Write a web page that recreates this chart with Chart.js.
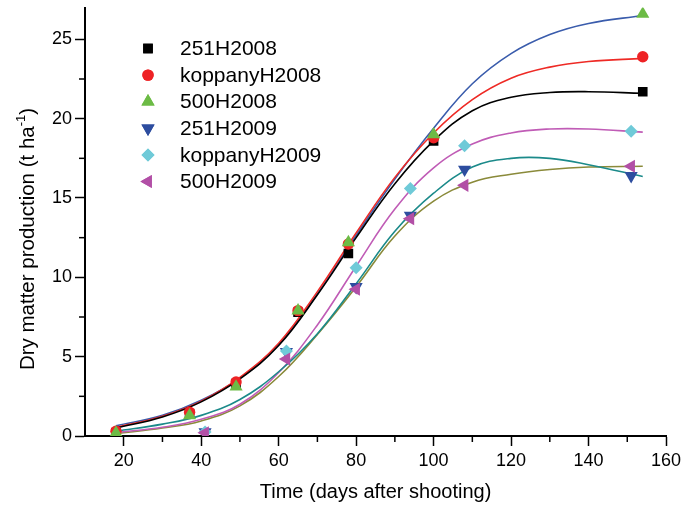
<!DOCTYPE html>
<html>
<head>
<meta charset="utf-8">
<script src="https://cdn.jsdelivr.net/npm/chart.js@4/dist/chart.umd.min.js"></script>
<style>
  html, body { margin: 0; padding: 0; background: #fff; }
  #wrap { width: 681px; height: 510px; }
</style>
</head>
<body>
<div id="wrap"><canvas id="grafico" width="681" height="510"></canvas></div>
<script>
// dias de amostragem
const days2008 = [18, 37, 49, 65, 78, 100, 154];
const days2009 = [41, 62, 80, 94, 108, 151];

// produção medida (t/ha)
const v251H2008 = [0.2, 1.4, 3.3, 7.8, 11.5, 18.6, 21.7];
const vKoppanyH2008 = [0.3, 1.5, 3.4, 7.9, 12.1, 18.8, 23.9];
const v500H2008 = [0.2, 1.3, 3.1, 7.9, 12.2, 19.0, 26.6];
const v251H2009 = [0.25, 5.3, 9.4, 13.9, 16.8, 16.4];
const vKoppanyH2009 = [0.25, 5.35, 10.6, 15.6, 18.3, 19.2];
const v500H2009 = [0.2, 4.85, 9.25, 13.7, 15.8, 17.0];

// curvas ajustadas
const fitDays = [18, 30, 40, 50, 60, 70, 80, 90, 100, 110, 120, 130, 140, 154];
const fit251H2008 = [0.5, 1.2, 2.15, 3.6, 5.7, 8.9, 12.5, 15.9, 18.6, 20.5, 21.35, 21.65, 21.7, 21.6];
const fitKoppanyH2008 = [0.55, 1.25, 2.2, 3.7, 5.85, 9.1, 12.8, 16.3, 19.1, 21.2, 22.55, 23.25, 23.6, 23.8];
const fit500H2008 = [0.65, 1.3, 2.25, 3.65, 5.75, 8.95, 12.65, 16.2, 19.4, 22.2, 24.1, 25.3, 26.0, 26.5];
const fit251H2009 = [0.3, 0.75, 1.3, 2.3, 4.05, 6.45, 9.6, 12.9, 15.3, 16.95, 17.5, 17.5, 17.1, 16.35];
const fitKoppanyH2009 = [0.22, 0.55, 1.05, 2.0, 4.0, 7.0, 10.7, 14.3, 16.9, 18.4, 19.1, 19.35, 19.35, 19.15];
const fit500H2009 = [0.15, 0.5, 0.95, 1.9, 3.75, 6.4, 9.4, 12.6, 14.8, 16.0, 16.5, 16.8, 16.95, 17.0];

const xTickLabels = [20, 40, 60, 80, 100, 120, 140, 160];
const yTickLabels = [0, 5, 10, 15, 20, 25];

const fonte = '"Liberation Sans", Arial, sans-serif';

function pontos(xs, ys) {
  return ys.map((y, i) => ({ x: xs[i], y: y }));
}

const series = [
  { nome: "251H2008", dias: days2008, val: v251H2008, cor: "#000000", estilo: "rect", raio: 6.8, rot: 0 },
  { nome: "koppanyH2008", dias: days2008, val: vKoppanyH2008, cor: "#ee2225", estilo: "circle", raio: 5.7, rot: 0 },
  { nome: "500H2008", dias: days2008, val: v500H2008, cor: "#6cbb45", estilo: "triangle", raio: 7.6, rot: 0 },
  { nome: "251H2009", dias: days2009, val: v251H2009, cor: "#2d4d9f", estilo: "triangle", raio: 7.6, rot: 180 },
  { nome: "koppanyH2009", dias: days2009, val: vKoppanyH2009, cor: "#6fcad8", estilo: "rectRot", raio: 6.5, rot: 0 },
  { nome: "500H2009", dias: days2009, val: v500H2009, cor: "#b24fa6", estilo: "triangle", raio: 7.6, rot: -90 }
];

const curvas = [
  { val: fit251H2008, cor: "#000000" },
  { val: fitKoppanyH2008, cor: "#ee2a25" },
  { val: fit500H2008, cor: "#3a5cac" },
  { val: fit251H2009, cor: "#1b8a8a" },
  { val: fitKoppanyH2009, cor: "#c05cb6" },
  { val: fit500H2009, cor: "#8a8a3a" }
];

const datasets = [];
curvas.forEach(c => {
  datasets.push({
    data: pontos(fitDays, c.val),
    showLine: true,
    borderColor: c.cor,
    borderWidth: 1.6,
    pointRadius: 0,
    fill: false,
    tension: 0.4,
    order: 100
  });
});
series.forEach((s, i) => {
  datasets.push({
    label: s.nome,
    data: pontos(s.dias, s.val),
    showLine: false,
    pointStyle: s.estilo,
    pointRotation: s.rot,
    pointRadius: s.raio,
    pointBorderWidth: 0,
    backgroundColor: s.cor,
    borderColor: s.cor,
    order: 6 - i
  });
});

// tiques menores, legenda e título do eixo y
const extras = {
  id: "extras",
  afterDraw(chart) {
    const ctx = chart.ctx;
    const sx = chart.scales.x, sy = chart.scales.y;
    ctx.save();
    ctx.strokeStyle = "#000";
    ctx.lineWidth = 1.5;
    sx.ticks.forEach(t => {
      if (t.value === sx.min || xTickLabels.includes(t.value)) return;
      const px = sx.getPixelForValue(t.value);
      ctx.beginPath();
      ctx.moveTo(px, sy.bottom);
      ctx.lineTo(px, sy.bottom + 6);
      ctx.stroke();
    });
    sy.ticks.forEach(t => {
      if (yTickLabels.includes(t.value)) return;
      const py = sy.getPixelForValue(t.value);
      ctx.beginPath();
      ctx.moveTo(sx.left, py);
      ctx.lineTo(sx.left - 6, py);
      ctx.stroke();
    });

    // legenda
    ctx.font = "21px " + fonte;
    ctx.textBaseline = "middle";
    ctx.textAlign = "left";
    series.forEach((s, i) => {
      const y = 48.5 + i * 26.6;
      ctx.fillStyle = s.cor;
      Chart.helpers.drawPoint(ctx, { pointStyle: s.estilo, radius: s.raio, rotation: s.rot, borderWidth: 0 }, 148, y);
      ctx.fill();
      ctx.fillStyle = "#000";
      ctx.fillText(s.nome, 180, y + 1);
    });

    // título y com sobrescrito
    const p1 = "Dry matter production (t ha", sup = "-1", p2 = ")";
    ctx.font = "20.5px " + fonte;
    const w1 = ctx.measureText(p1).width, w3 = ctx.measureText(p2).width;
    ctx.font = "13px " + fonte;
    const w2 = ctx.measureText(sup).width;
    const total = w1 + w2 + w3;
    ctx.translate(28, 239);
    ctx.rotate(-Math.PI / 2);
    ctx.fillStyle = "#000";
    ctx.textBaseline = "middle";
    ctx.font = "20.5px " + fonte;
    ctx.fillText(p1, -total / 2, 0);
    ctx.font = "13px " + fonte;
    ctx.fillText(sup, -total / 2 + w1, -7);
    ctx.font = "20.5px " + fonte;
    ctx.fillText(p2, -total / 2 + w1 + w2, 0);
    ctx.restore();
  }
};

const ctx = document.getElementById("grafico").getContext("2d");
new Chart(ctx, {
  type: "scatter",
  data: { datasets: datasets },
  options: {
    responsive: false,
    animation: false,
    devicePixelRatio: 1,
    layout: { padding: { top: 7.5, right: 15, left: 0, bottom: 0 } },
    plugins: { legend: { display: false }, tooltip: { enabled: false } },
    scales: {
      x: {
        type: "linear",
        min: 10,
        max: 160,
        afterFit: s => { s.height = 74; s.paddingLeft = 0; s.paddingRight = 0; },
        ticks: {
          stepSize: 10,
          includeBounds: false,
          autoSkip: false,
          maxRotation: 0,
          padding: 4,
          color: "#000",
          font: { size: 18, family: fonte },
          callback: v => xTickLabels.includes(v) ? String(v) : ""
        },
        grid: {
          drawOnChartArea: false,
          tickLength: 10,
          tickWidth: 1.5,
          tickColor: c => (c.tick && xTickLabels.includes(c.tick.value)) ? "#000" : "rgba(0,0,0,0)"
        },
        border: { color: "#000", width: 2 },
        title: {
          display: true,
          text: "Time (days after shooting)",
          color: "#000",
          font: { size: 20, family: fonte },
          padding: { top: 0, bottom: 6 }
        }
      },
      y: {
        type: "linear",
        min: 0,
        max: 27,
        afterFit: s => { s.width = 85; s.paddingTop = 0; s.paddingBottom = 0; },
        ticks: {
          stepSize: 2.5,
          includeBounds: false,
          autoSkip: false,
          padding: 3,
          color: "#000",
          font: { size: 18, family: fonte },
          callback: v => yTickLabels.includes(v) ? String(v) : ""
        },
        grid: {
          drawOnChartArea: false,
          tickLength: 10,
          tickWidth: 1.5,
          tickColor: c => (c.tick && yTickLabels.includes(c.tick.value)) ? "#000" : "rgba(0,0,0,0)"
        },
        border: { color: "#000", width: 2 }
      }
    }
  },
  plugins: [extras]
});
</script>
</body>
</html>
